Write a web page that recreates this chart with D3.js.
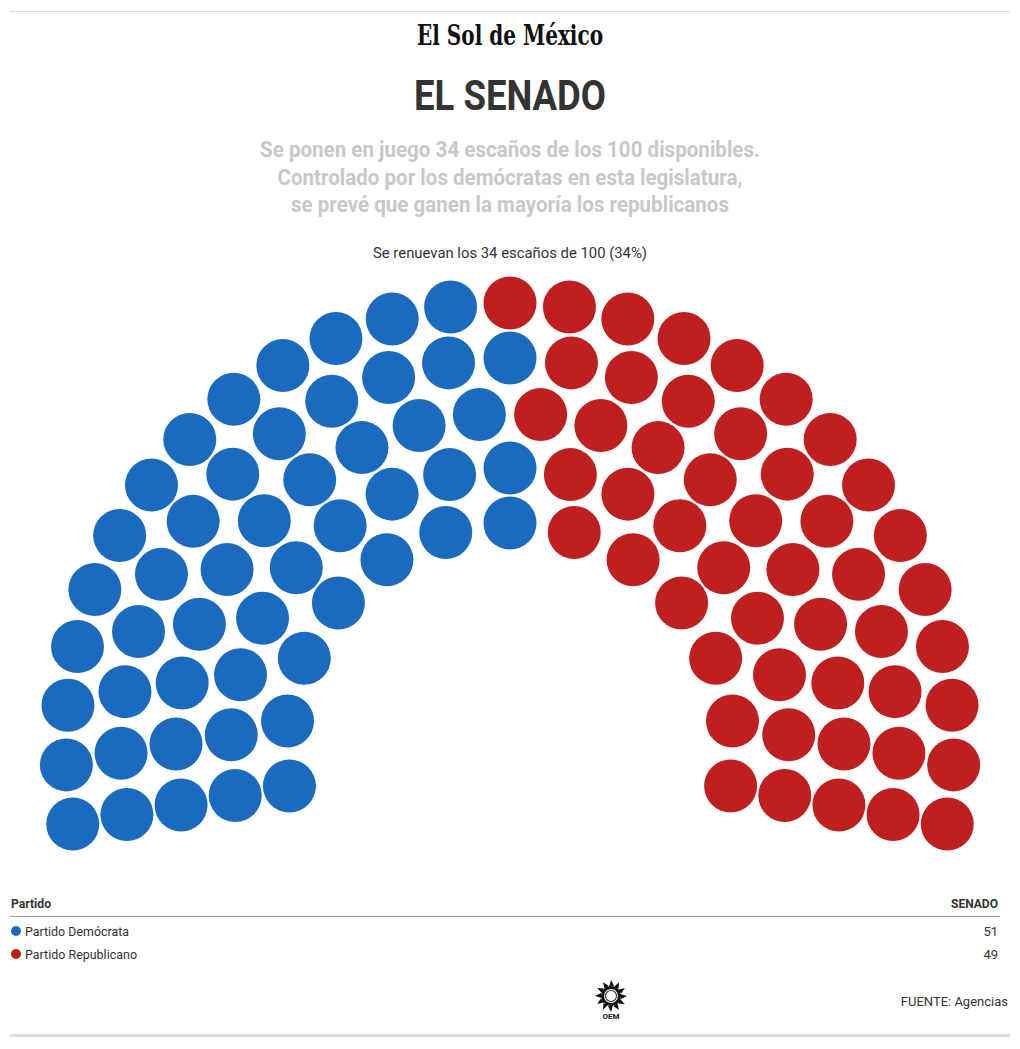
<!DOCTYPE html>
<html>
<head>
<meta charset="utf-8">
<script src="https://cdn.jsdelivr.net/npm/d3@7"></script>
<style>
  body { margin: 0; background: #fff; }
  svg { display: block; font-family: Roboto, "Noto Sans", sans-serif; }
</style>
</head>
<body>
<svg id="chart" width="1020" height="1049"></svg>
<script>
(function (d3) {
    'use strict';

    // data
    const parties = ['Partido Demócrata', 'Partido Republicano'];
    const seats = [51, 49];
    const partyColors = ['#1a6bbf', '#c01f1f'];
    const totalSeats = 100;

    const title = 'EL SENADO';
    const subtitle = [
        'Se ponen en juego 34 escaños de los 100 disponibles.',
        'Controlado por los demócratas en esta legislatura,',
        'se prevé que ganen la mayoría los republicanos'
    ];
    const note = 'Se renuevan los 34 escaños de 100 (34%)';
    const source = 'FUENTE: Agencias';

    const W = 1020;
    const svg = d3.select('#chart');

    // rules top & bottom
    svg.append('line')
        .attr('x1', 10).attr('x2', 1010).attr('y1', 11.5).attr('y2', 11.5)
        .attr('stroke', '#dcdcdc');
    svg.append('rect')
        .attr('x', 10).attr('y', 1034).attr('width', 1000).attr('height', 3)
        .attr('fill', '#dddddd');

    // masthead
    svg.append('text')
        .attr('x', W / 2).attr('y', 45)
        .attr('text-anchor', 'middle')
        .attr('font-family', '"DejaVu Serif", "Liberation Serif", serif')
        .attr('font-weight', 'bold')
        .attr('font-size', 27)
        .attr('textLength', 186)
        .attr('lengthAdjust', 'spacingAndGlyphs')
        .attr('fill', '#111')
        .text('El Sol de México');

    svg.append('text')
        .attr('x', W / 2).attr('y', 110)
        .attr('text-anchor', 'middle')
        .attr('font-weight', 'bold')
        .attr('font-size', 42)
        .attr('textLength', 192)
        .attr('lengthAdjust', 'spacingAndGlyphs')
        .attr('fill', '#333')
        .text(title);

    const subLengths = [500, 465, 438];
    svg.selectAll('text.sub').data(subtitle)
        .enter().append('text')
        .attr('class', 'sub')
        .attr('x', W / 2)
        .attr('y', (d, i) => 157 + i * 27.5)
        .attr('text-anchor', 'middle')
        .attr('font-weight', 'bold')
        .attr('font-size', 22)
        .attr('textLength', (d, i) => subLengths[i])
        .attr('lengthAdjust', 'spacingAndGlyphs')
        .attr('fill', '#c8c8c8')
        .text(d => d);

    svg.append('text')
        .attr('x', W / 2).attr('y', 258)
        .attr('text-anchor', 'middle')
        .attr('font-size', 15)
        .attr('textLength', 274)
        .attr('lengthAdjust', 'spacingAndGlyphs')
        .attr('fill', '#333')
        .text(note);

    // parliament layout
    const cx = 510, cy = 747;
    const nRows = 5;
    const radius = d3.scaleLinear().domain([0, nRows - 1]).range([224, 444]);
    const rowRadii = d3.range(nRows).map(radius);
    const radSum = d3.sum(rowRadii);
    const rowCounts = rowRadii.map(r => Math.round(totalSeats * r / radSum));

    const seatList = [];
    rowCounts.forEach((n, row) => {
        const angle = d3.scaleLinear().domain([0, n - 1]).range([190, -10]);
        d3.range(n).forEach(i => {
            seatList.push({ row, r: rowRadii[row], a: angle(i) });
        });
    });
    seatList.sort((p, q) => (q.a - p.a) || (p.r - q.r));

    const partyOf = d3.scaleThreshold()
        .domain(d3.cumsum(seats).slice(0, -1))
        .range(d3.range(parties.length));
    seatList.forEach((d, i) => { d.party = partyOf(i); });

    const toRad = Math.PI / 180;
    svg.append('g').selectAll('circle').data(seatList)
        .enter().append('circle')
        .attr('cx', d => cx + d.r * Math.cos(d.a * toRad))
        .attr('cy', d => cy - d.r * Math.sin(d.a * toRad))
        .attr('r', 26.5)
        .attr('fill', d => partyColors[d.party]);

    // table
    const table = svg.append('g').attr('font-size', 13).attr('fill', '#333');
    table.append('text')
        .attr('x', 11).attr('y', 908)
        .attr('font-weight', 'bold')
        .attr('textLength', 40).attr('lengthAdjust', 'spacingAndGlyphs')
        .attr('fill', '#333')
        .text('Partido');
    table.append('text')
        .attr('x', 998).attr('y', 908)
        .attr('text-anchor', 'end')
        .attr('font-weight', 'bold')
        .attr('textLength', 47).attr('lengthAdjust', 'spacingAndGlyphs')
        .attr('fill', '#333')
        .text('SENADO');
    table.append('line')
        .attr('x1', 10).attr('x2', 1000).attr('y1', 916.5).attr('y2', 916.5)
        .attr('stroke', '#a0a0a0');

    const rowY = d3.scalePoint().domain(parties).range([936, 959]);
    const nameLen = [104, 112];
    const rows = table.selectAll('g.row').data(parties)
        .enter().append('g').attr('class', 'row');
    rows.append('circle')
        .attr('cx', 16)
        .attr('cy', d => rowY(d) - 5)
        .attr('r', 5)
        .attr('fill', (d, i) => partyColors[i]);
    rows.append('text')
        .attr('x', 25)
        .attr('y', d => rowY(d))
        .attr('textLength', (d, i) => nameLen[i])
        .attr('lengthAdjust', 'spacingAndGlyphs')
        .attr('fill', '#333')
        .text(d => d);
    rows.append('text')
        .attr('x', 998)
        .attr('y', d => rowY(d))
        .attr('text-anchor', 'end')
        .attr('fill', '#333')
        .text((d, i) => seats[i]);

    // OEM logo (rough)
    const logo = svg.append('g').attr('transform', 'translate(611,996)');
    logo.selectAll('path.ray').data(d3.range(12))
        .enter().append('path')
        .attr('class', 'ray')
        .attr('d', 'M-2,-9 L0,-16 L3,-10 Z')
        .attr('transform', d => `rotate(${d * 30})`)
        .attr('fill', '#111');
    logo.append('circle').attr('r', 10).attr('fill', '#111');
    logo.append('circle').attr('r', 7).attr('fill', '#fff');
    logo.append('circle').attr('r', 5.5).attr('fill', 'none').attr('stroke', '#333').attr('stroke-width', 1.2);
    logo.append('text')
        .attr('y', 23).attr('text-anchor', 'middle')
        .attr('font-size', 8).attr('font-weight', 'bold')
        .attr('fill', '#111')
        .text('OEM');

    svg.append('text')
        .attr('x', 1008).attr('y', 1006)
        .attr('text-anchor', 'end')
        .attr('font-size', 13)
        .attr('fill', '#333')
        .text(source);

}(d3));
</script>
</body>
</html>
